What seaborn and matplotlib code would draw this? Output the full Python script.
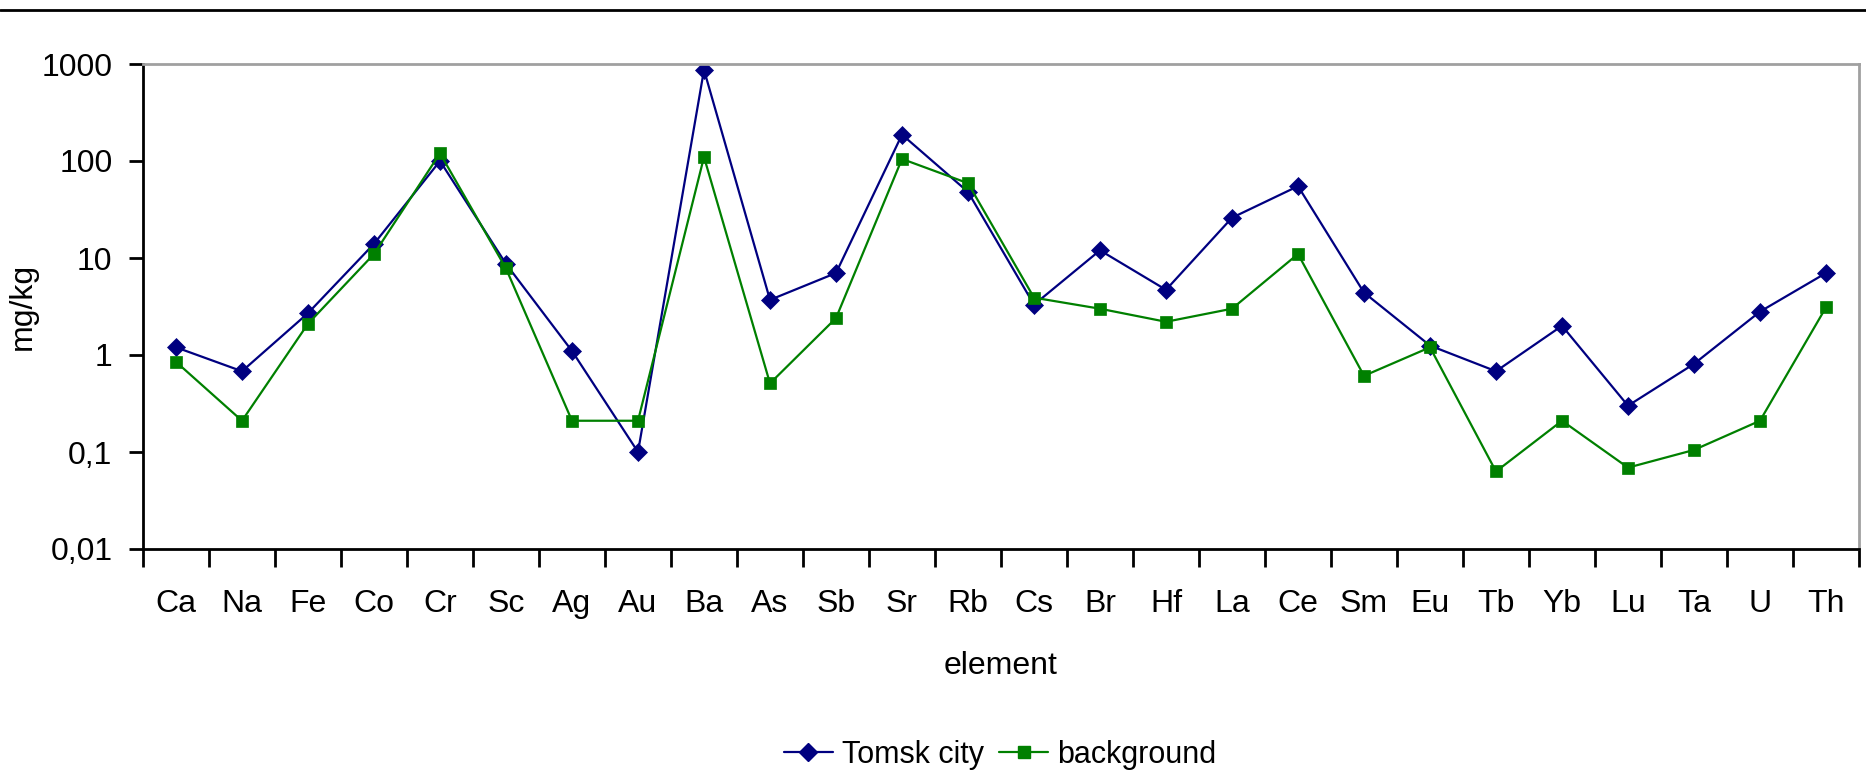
import matplotlib
matplotlib.use("Agg")
import matplotlib.pyplot as plt
from matplotlib.lines import Line2D
import seaborn as sns
import pandas as pd

elements = ["Ca", "Na", "Fe", "Co", "Cr", "Sc", "Ag", "Au", "Ba", "As", "Sb", "Sr", "Rb",
            "Cs", "Br", "Hf", "La", "Ce", "Sm", "Eu", "Tb", "Yb", "Lu", "Ta", "U", "Th"]
tomsk = [1.2, 0.68, 2.7, 14, 100, 8.7, 1.1, 0.1, 870, 3.7, 7.0, 187, 48,
         3.3, 12, 4.7, 26, 55, 4.4, 1.25, 0.68, 2.0, 0.30, 0.81, 2.8, 7.0]
background = [0.85, 0.21, 2.1, 11, 120, 7.8, 0.21, 0.21, 110, 0.51, 2.4, 105, 59,
              3.9, 3.0, 2.2, 3.0, 11, 0.61, 1.2, 0.063, 0.21, 0.069, 0.105, 0.21, 3.1]
series_names = ["Tomsk city", "background"]
y_ticks = [0.01, 0.1, 1, 10, 100, 1000]
y_tick_labels = ["0,01", "0,1", "1", "10", "100", "1000"]

sns.set_theme(style="white")
plt.rcParams["font.family"] = ["Liberation Sans", "DejaVu Sans"]
plt.rcParams["text.color"] = "black"
plt.rcParams["axes.labelcolor"] = "black"
plt.rcParams["xtick.color"] = "black"
plt.rcParams["ytick.color"] = "black"

df = pd.DataFrame({
    "element": elements * 2,
    "value": tomsk + background,
    "series": [series_names[0]] * len(elements) + [series_names[1]] * len(elements),
})

colors = {"Tomsk city": "#000080", "background": "#008000"}
markers = {"Tomsk city": "D", "background": "s"}
msizes = {"Tomsk city": 9.5, "background": 8.5}

fig = plt.figure(figsize=(18.66, 7.83), dpi=100)
ax = fig.add_axes([143 / 1866, 1 - 549 / 783, (1859 - 143) / 1866, (549 - 64) / 783])

sns.lineplot(data=df, x="element", y="value", hue="series", style="series",
             palette=colors, markers=markers, dashes=False, sort=False,
             linewidth=1.6, ax=ax, legend=False)
for ln, n in zip(ax.lines, series_names):
    ln.set_markeredgecolor(ln.get_color())
    ln.set_markeredgewidth(0.5)
    ln.set_markersize(msizes[n])

ax.set_yscale("log")
ax.set_ylim(0.01, 1000)
ax.set_yticks(y_ticks)
ax.set_yticklabels(y_tick_labels)
ax.yaxis.set_minor_locator(matplotlib.ticker.NullLocator())
ax.set_xlim(-0.5, len(elements) - 0.5)
ax.set_xticks(range(len(elements)))
ax.set_xticklabels(elements)
ax.set_xticks([i - 0.5 for i in range(len(elements) + 1)], minor=True)

ax.tick_params(axis="x", which="major", length=0, pad=29, labelsize=23, colors="black")
ax.tick_params(axis="x", which="minor", length=13, width=2, direction="out", color="black", bottom=True)
ax.tick_params(axis="y", which="major", length=10, width=2, direction="out", pad=12,
               labelsize=23, color="black", left=True, labelcolor="black")

for s in ["left", "bottom"]:
    ax.spines[s].set_color("black")
    ax.spines[s].set_linewidth(2)
for s in ["top", "right"]:
    ax.spines[s].set_color("#a0a0a0")
    ax.spines[s].set_linewidth(2)

ax.set_xlabel("element", fontsize=23, labelpad=23, color="black")
ax.set_ylabel("mg/kg", fontsize=23, color="black")
ax.yaxis.set_label_coords((38 - 143) / 1716, 0.5)
ax.grid(False)

handles = [Line2D([], [], color=colors[n], marker=markers[n], markersize=msizes[n],
                  markeredgecolor=colors[n], linewidth=1.6) for n in series_names]
fig.legend(handles, series_names, loc="center", bbox_to_anchor=(1000 / 1866, 1 - 755 / 783),
           ncol=2, frameon=False, fontsize=22, handlelength=1.6, columnspacing=0.5,
           handletextpad=0.3, labelcolor="black")

fig.add_artist(Line2D([0, 1], [1 - 10 / 783, 1 - 10 / 783], color="black", linewidth=2,
                      transform=fig.transFigure))

fig.savefig("out.png", dpi=100, facecolor="white")
